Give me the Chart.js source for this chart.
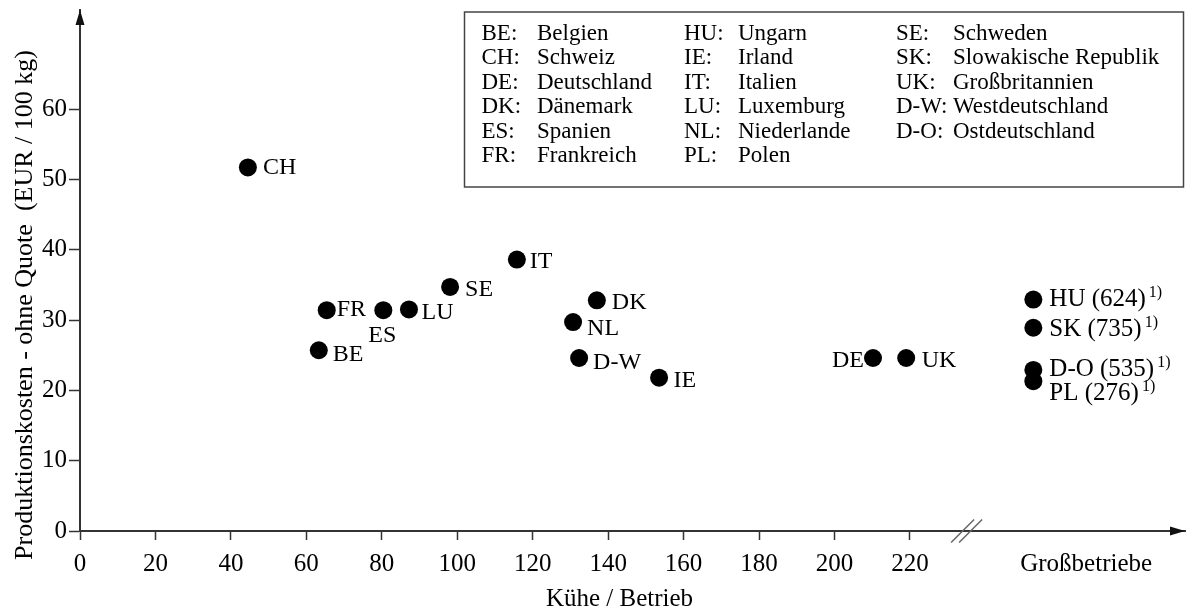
<!DOCTYPE html>
<html lang="de">
<head>
<meta charset="UTF-8">
<title>Produktionskosten und Herdengröße</title>
<script src="https://cdn.jsdelivr.net/npm/chart.js@4.4.1/dist/chart.umd.min.js"></script>
<style>
  * { margin: 0; padding: 0; box-sizing: border-box; }
  body { background: #fff; width: 1187px; height: 612px; overflow: hidden; }
  #chart { display: block; }
</style>
</head>
<body>
<canvas id="chart" width="1187" height="612"></canvas>
<script>
// Länder: Kühe je Betrieb und Produktionskosten ohne Quote (EUR / 100 kg)
const codes = ['CH', 'FR', 'BE', 'ES', 'LU', 'SE', 'IT', 'DK', 'NL', 'D-W', 'IE', 'DE', 'UK'];
const cows  = [44.5, 65.4, 63.3, 80.4, 87.2, 98.1, 115.8, 137.0, 130.7, 132.3, 153.5, 210.2, 219.0];
const cost  = [51.7, 31.4, 25.7, 31.4, 31.5, 34.7, 38.6, 32.8, 29.7, 24.6, 21.8, 24.6, 24.6];

// Großbetriebe (Herdengröße in Klammern, ausserhalb der Skala)
const largeCodes = ['HU', 'SK', 'D-O', 'PL'];
const largeHerd  = [624, 735, 535, 276];
const largeCost  = [32.9, 28.9, 22.9, 21.3];
const footnote = '1)';

const xTickValues = [0, 20, 40, 60, 80, 100, 120, 140, 160, 180, 200, 220, 266.7];
const xTickLabels = ['0', '20', '40', '60', '80', '100', '120', '140', '160', '180', '200', '220', 'Großbetriebe'];
const yTickValues = [0, 10, 20, 30, 40, 50, 60];

const legendCodes = ['BE:', 'CH:', 'DE:', 'DK:', 'ES:', 'FR:',
                     'HU:', 'IE:', 'IT:', 'LU:', 'NL:', 'PL:',
                     'SE:', 'SK:', 'UK:', 'D-W:', 'D-O:'];
const legendNames = ['Belgien', 'Schweiz', 'Deutschland', 'Dänemark', 'Spanien', 'Frankreich',
                     'Ungarn', 'Irland', 'Italien', 'Luxemburg', 'Niederlande', 'Polen',
                     'Schweden', 'Slowakische Republik', 'Großbritannien', 'Westdeutschland', 'Ostdeutschland'];

const xTitle = 'Kühe / Betrieb';
const yTitle = 'Produktionskosten - ohne Quote  (EUR / 100 kg)';

// layout constants
const GROSS_X = 252.7;   // slot for the Großbetriebe on the x axis
const BREAK_X = 235;     // axis break marker
const X_MAX = 292.9;
const Y_MAX = 74.08;
const FONT = '"Liberation Serif", "Times New Roman", serif';
const AXIS = '#333';

// label placement: dx, dy (cap centre vs point centre), align
const labelPos = {
  'CH': [15, -1.5, 'left'], 'FR': [10, -2.5, 'left'], 'BE': [14, 2.5, 'left'],
  'ES': [-1, 24, 'center'], 'LU': [12.5, 2, 'left'], 'SE': [15, 1, 'left'],
  'IT': [13, 1, 'left'], 'DK': [15, 1, 'left'], 'NL': [14, 5, 'left'],
  'D-W': [14, 3, 'left'], 'IE': [14.5, 1, 'left'], 'DE': [-9, 1, 'right'],
  'UK': [15.5, 1, 'left'],
  'HU': [16, -1.5, 'left'], 'SK': [16, 0.5, 'left'], 'D-O': [16, -2.5, 'left'], 'PL': [16, 11, 'left']
};

Chart.defaults.font.family = FONT;
Chart.defaults.color = '#000';

const decor = {
  id: 'decor',
  afterDraw(chart) {
    const c = chart.ctx;
    const xs = chart.scales.x, ys = chart.scales.y;
    const x0 = xs.getPixelForValue(0), y0 = ys.getPixelForValue(0);
    const area = chart.chartArea;
    c.save();

    // arrow heads
    c.fillStyle = '#111';
    c.beginPath();
    c.moveTo(x0, area.top);
    c.lineTo(x0 - 4.5, area.top + 15);
    c.lineTo(x0 + 4.5, area.top + 15);
    c.closePath();
    c.fill();
    c.beginPath();
    c.moveTo(area.right, y0);
    c.lineTo(area.right - 15, y0 - 4.5);
    c.lineTo(area.right - 15, y0 + 4.5);
    c.closePath();
    c.fill();

    // axis break
    const bx = xs.getPixelForValue(BREAK_X);
    c.strokeStyle = '#666';
    c.lineWidth = 1.5;
    [-4, 4].forEach(o => {
      c.beginPath();
      c.moveTo(bx + o - 11.5, y0 + 11.5);
      c.lineTo(bx + o + 11.5, y0 - 11.5);
      c.stroke();
    });

    // axis titles
    c.fillStyle = '#000';
    c.font = '25px ' + FONT;
    c.textAlign = 'center';
    c.textBaseline = 'alphabetic';
    c.fillText(xTitle, 619.5, 606);
    c.save();
    c.translate(31.5, 305);
    c.rotate(-Math.PI / 2);
    c.font = '26px ' + FONT;
    c.fillText(yTitle, 0, 0);
    c.restore();

    // point labels
    const drawLabel = (el, code, text, size, sup) => {
      const p = labelPos[code];
      c.font = size + 'px ' + FONT;
      c.textAlign = p[2];
      const tx = el.x + p[0];
      const ty = el.y + p[1] + size * 0.33;
      c.fillText(text, tx, ty);
      if (sup) {
        const w = c.measureText(text).width;
        c.font = '16px ' + FONT;
        c.textAlign = 'left';
        c.fillText(sup, tx + w + 3, ty - 9);
      }
    };
    chart.getDatasetMeta(0).data.forEach((el, i) => drawLabel(el, codes[i], codes[i], 24));
    chart.getDatasetMeta(1).data.forEach((el, i) =>
      drawLabel(el, largeCodes[i], largeCodes[i] + ' (' + largeHerd[i] + ')', 25, footnote));

    // legend box
    c.strokeStyle = '#444';
    c.lineWidth = 1.5;
    c.strokeRect(464.5, 12, 719, 175);
    c.font = '23px ' + FONT;
    c.textAlign = 'left';
    const codeX = [481.5, 684, 896];
    const nameX = [537, 738, 953];
    legendCodes.forEach((code, i) => {
      const col = Math.floor(i / 6), row = i % 6;
      const y = 39.5 + row * 24.5;
      c.fillText(code, codeX[col], y);
      const nx = Math.max(nameX[col], codeX[col] + c.measureText(code).width + 2);
      c.fillText(legendNames[i], nx, y);
    });

    c.restore();
  }
};

new Chart(document.getElementById('chart'), {
  type: 'scatter',
  data: {
    datasets: [
      {
        data: codes.map((c, i) => ({ x: cows[i], y: cost[i] })),
        backgroundColor: '#000', borderColor: '#000', borderWidth: 0,
        pointRadius: 9, pointHoverRadius: 9, clip: false
      },
      {
        data: largeCodes.map((c, i) => ({ x: GROSS_X, y: largeCost[i] })),
        backgroundColor: '#000', borderColor: '#000', borderWidth: 0,
        pointRadius: 9, pointHoverRadius: 9, clip: false
      }
    ]
  },
  options: {
    responsive: false,
    animation: false,
    events: [],
    layout: { autoPadding: false, padding: { top: 10, right: 2, left: 0, bottom: 0 } },
    plugins: { legend: { display: false }, tooltip: { enabled: false } },
    scales: {
      x: {
        type: 'linear', min: 0, max: X_MAX,
        afterBuildTicks: s => { s.ticks = xTickValues.map(v => ({ value: v })); },
        afterFit: s => { s.height = 81; s.paddingLeft = 0; s.paddingRight = 0; },
        grid: {
          drawOnChartArea: false, tickLength: 9, tickWidth: 1.5,
          tickColor: ctx => (ctx.tick && ctx.tick.value > BREAK_X) ? 'rgba(0,0,0,0)' : AXIS
        },
        border: { color: AXIS, width: 2 },
        ticks: {
          font: { size: 25 }, color: '#000', padding: 9, maxRotation: 0, autoSkip: false,
          callback: (v, i) => xTickLabels[i]
        }
      },
      y: {
        type: 'linear', min: 0, max: Y_MAX,
        afterBuildTicks: s => { s.ticks = yTickValues.map(v => ({ value: v })); },
        afterFit: s => { s.width = 80; s.paddingTop = 0; s.paddingBottom = 0; },
        grid: { drawOnChartArea: false, tickLength: 11, tickWidth: 1.5, tickColor: AXIS },
        border: { color: AXIS, width: 2 },
        ticks: { font: { size: 25 }, color: '#000', padding: 2, autoSkip: false }
      }
    }
  },
  plugins: [decor]
});
</script>
</body>
</html>
